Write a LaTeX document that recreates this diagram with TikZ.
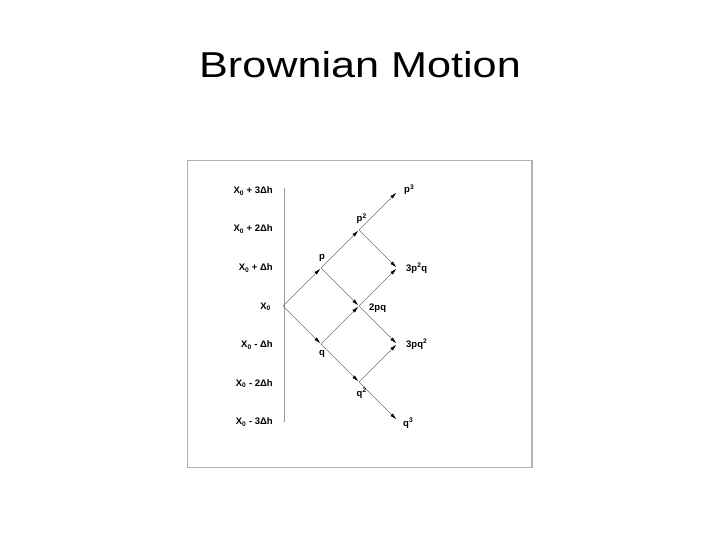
\documentclass[tikz,border=0pt]{standalone}
\usepackage{fontspec}
\setmainfont{Liberation Sans}
\usetikzlibrary{arrows.meta}
\begin{document}
\begin{tikzpicture}[x=1pt,y=1pt,
  every node/.style={inner sep=0pt},
  move/.style={draw=gray!90!black, line width=0.5pt, shorten >=1pt,
    -{Latex[length=6.5pt,width=3.6pt,color=black]}},
  lvl/.style={anchor=base east, font=\bfseries\fontsize{9.5}{11}\selectfont},
  prob/.style={font=\bfseries\fontsize{9.5}{11}\selectfont}]
\useasboundingbox (0,0) rectangle (720,-540);
\node (title) [anchor=base, xscale=1.2, font=\fontsize{36}{40}\selectfont] at (360,-77.5) {Brownian Motion};
\draw [gray!60, line width=1.3pt] (187.5,-160.5) rectangle (532,-467.5);
% levels of the walk
\draw [gray!80] (284,-188) -- (284,-422);
\node (l3) [lvl] at (273,-193.5) {X\textsubscript{0} + 3Δh};
\node (l2) [lvl] at (273,-232) {X\textsubscript{0} + 2Δh};
\node (l1) [lvl] at (273,-270.5) {X\textsubscript{0} + Δh};
\node (l0) [lvl] at (271,-309) {X\textsubscript{0}};
\node (m1) [lvl] at (273,-347.5) {X\textsubscript{0} - Δh};
\node (m2) [lvl] at (273,-386) {X\textsubscript{0} - 2Δh};
\node (m3) [lvl] at (273,-424.5) {X\textsubscript{0} - 3Δh};
% lattice points
\coordinate (x0) at (283,-306);
\coordinate (p) at (321,-268);
\coordinate (q) at (321,-344);
\coordinate (pp) at (359,-230);
\coordinate (pq) at (359,-306);
\coordinate (qq) at (359,-382);
\coordinate (ppp) at (397,-192);
\coordinate (ppq) at (397,-268);
\coordinate (pqq) at (397,-344);
\coordinate (qqq) at (397,-420);
% steps up and down
\draw [move] (x0) -- (p);
\draw [move] (x0) -- (q);
\draw [move] (p) -- (pp);
\draw [move] (p) -- (pq);
\draw [move] (q) -- (pq);
\draw [move] (q) -- (qq);
\draw [move] (pp) -- (ppp);
\draw [move] (pp) -- (ppq);
\draw [move] (pq) -- (ppq);
\draw [move] (pq) -- (pqq);
\draw [move] (qq) -- (pqq);
\draw [move] (qq) -- (qqq);
% probabilities
\node (p lab) [prob, anchor=base] at ([xshift=1pt,yshift=9pt]p) {p};
\node (q lab) [prob, anchor=base] at ([xshift=1pt,yshift=-11pt]q) {q};
\node (pp lab) [prob, anchor=base west] at ([xshift=-2.5pt,yshift=8pt]pp) {p\textsuperscript{2}};
\node (pq lab) [prob, anchor=base west] at ([xshift=10pt,yshift=-4pt]pq) {2pq};
\node (qq lab) [prob, anchor=base west] at ([xshift=-2.5pt,yshift=-14pt]qq) {q\textsuperscript{2}};
\node (ppp lab) [prob, anchor=base west] at ([xshift=7pt,yshift=-1pt]ppp) {p\textsuperscript{3}};
\node (ppq lab) [prob, anchor=base west] at ([xshift=9pt,yshift=-3pt]ppq) {3p\textsuperscript{2}q};
\node (pqq lab) [prob, anchor=base west] at ([xshift=9pt,yshift=-3pt]pqq) {3pq\textsuperscript{2}};
\node (qqq lab) [prob, anchor=base west] at ([xshift=6pt,yshift=-6pt]qqq) {q\textsuperscript{3}};
\end{tikzpicture}
\end{document}
